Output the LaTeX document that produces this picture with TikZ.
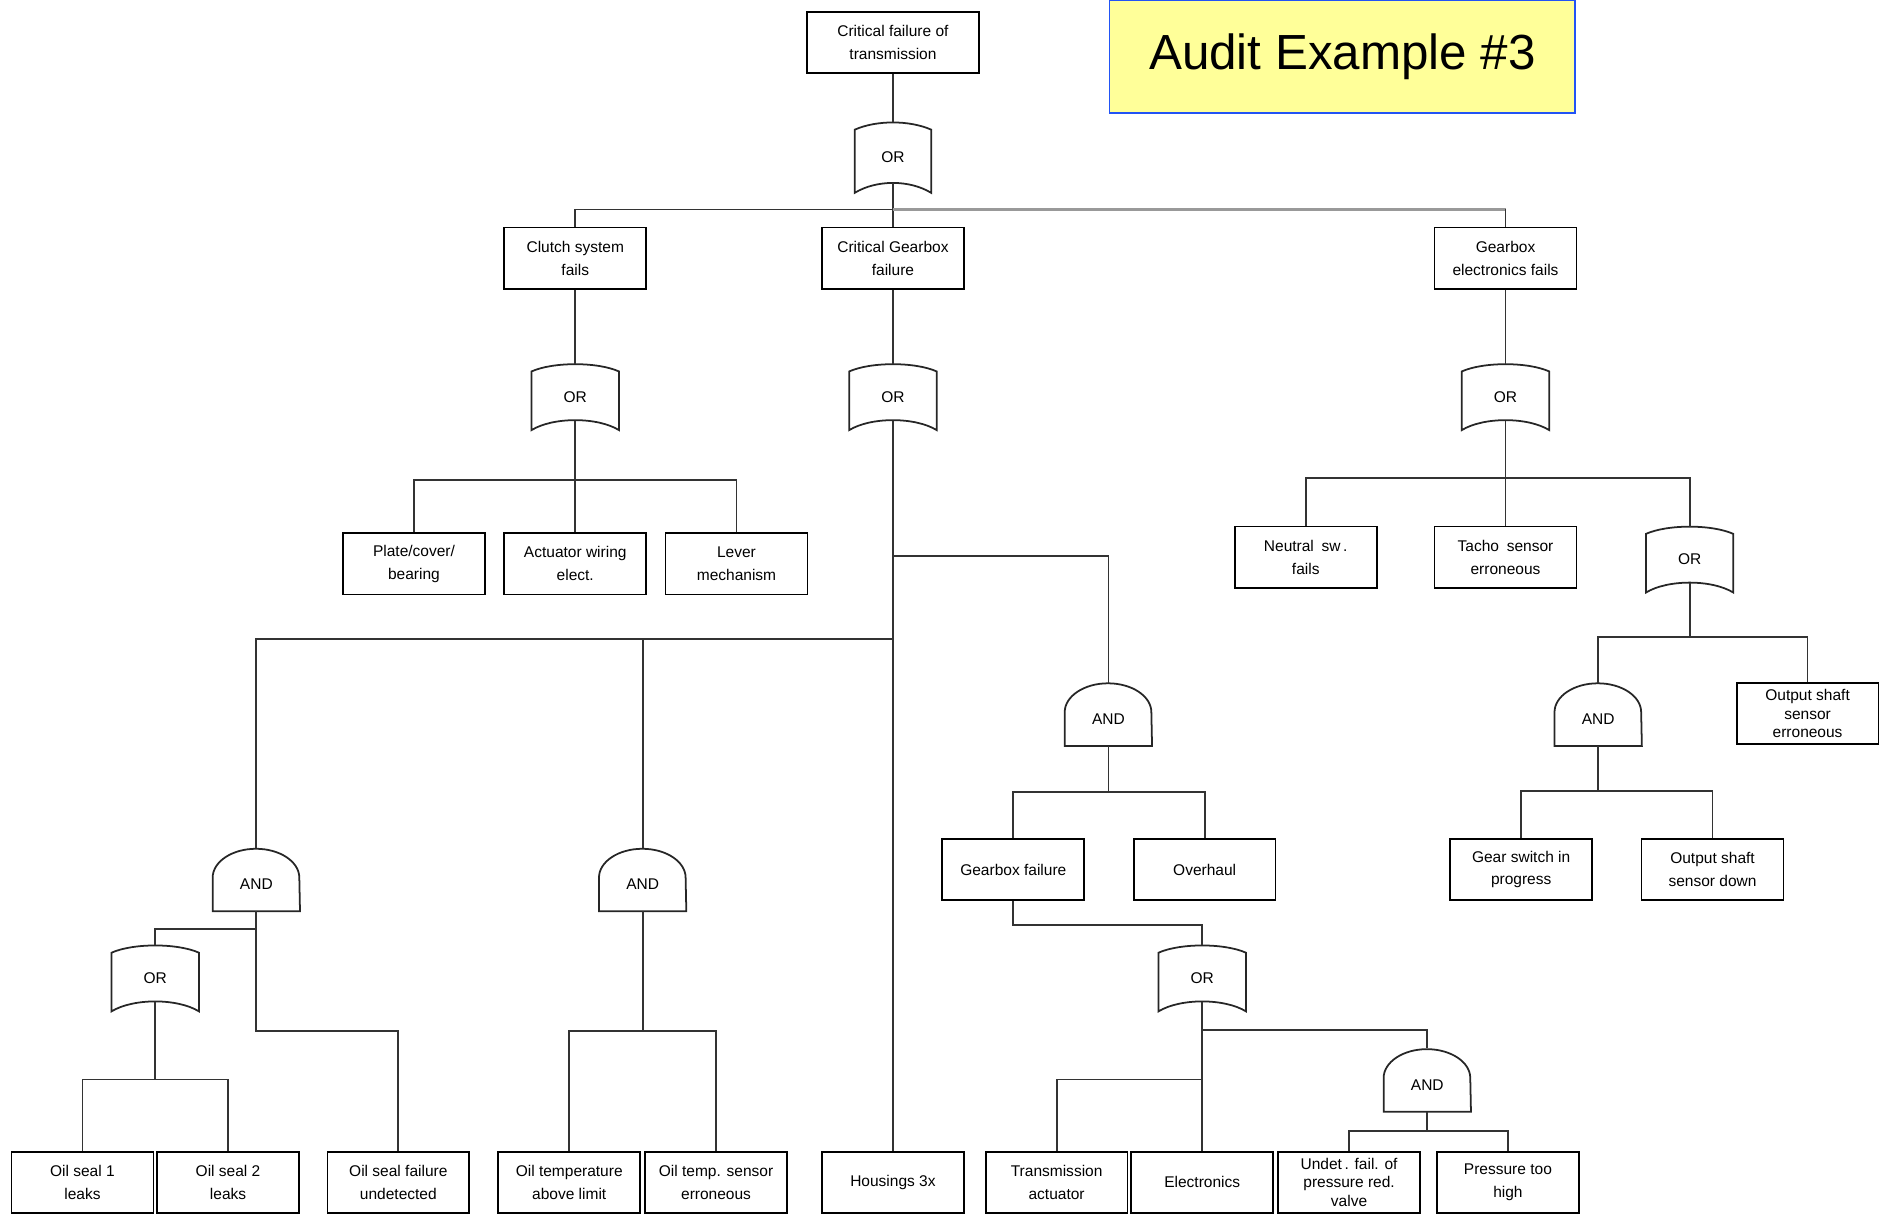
\documentclass[tikz,border=0pt]{standalone}
\usepackage{fontspec}
\setmainfont{Liberation Sans}
\usepackage{xcolor}
\usepackage{tikz}
\definecolor{auditblue}{HTML}{2253F5}
\definecolor{audityellow}{HTML}{FFFF99}

\tikzset{
  event/.style={draw, line width=1pt, minimum width=2.83cm, minimum height=1.22cm,
    inner sep=1pt, align=center, font=\fontsize{8.8}{13}\selectfont},
  tight/.style={font=\fontsize{8.8}{10.5}\selectfont},
  gate/.style={inner sep=0pt, minimum width=1.728cm, font=\fontsize{8.8}{10}\selectfont},
  orgate/.style={gate, minimum height=1.3cm},
  andgate/.style={gate, minimum height=1.248cm, text height=11.5pt, text depth=0pt},
  link/.style={draw=black!80, line width=1pt},
  outline/.style={draw=black!85, line width=1pt}
}

\begin{document}
\begin{tikzpicture}[x=0.024cm, y=-0.024cm]
  \useasboundingbox (0,0) rectangle (1568,1010);

  \node[draw=auditblue, fill=audityellow, line width=1pt, minimum width=9.29cm,
        minimum height=2.26cm, font=\fontsize{28}{30}\selectfont] (title) at (1115.5,47) {Audit Example \#3};

  % top event and first level
  \node[event, minimum width=3.43cm] (top) at (742,35.5) {Critical failure of\\transmission};
  \node[orgate, minimum width=1.51cm, minimum height=1.39cm] (or0) at (742,131) {OR};
  \node[event] (clutch) at (478,214.5) {Clutch system\\fails};
  \node[event] (gbx) at (742,214.5) {Critical Gearbox\\failure};
  \node[event] (elec) at (1251,214.5) {Gearbox\\electronics fails};

  % clutch branch
  \node[orgate] (or1) at (478,330) {OR};
  \node[event] (plate) at (344,468.5) {Plate/cover/\\bearing};
  \node[event] (actw) at (478,468.5) {Actuator wiring\\elect.};
  \node[event] (lever) at (612,468.5) {Lever\\mechanism};

  % electronics branch
  \node[orgate] (or3) at (1251,330) {OR};
  \node[event] (neutral) at (1085,463) {Neutral\enspace sw\,.\\fails};
  \node[event] (tacho) at (1251,463) {Tacho\enspace sensor\\erroneous};
  \node[orgate] (or4) at (1404,465) {OR};
  \node[andgate] (and1) at (1328,593.5) {AND};
  \node[event, tight] (oss) at (1502,593) {Output shaft\\sensor\\erroneous};
  \node[event] (gsw) at (1264,722.5) {Gear switch in\\progress};
  \node[event] (osd) at (1423,722.5) {Output shaft\\sensor down};

  % gearbox branch
  \node[orgate] (or2) at (742,330) {OR};
  \node[andgate] (and2) at (921,593.5) {AND};
  \node[event] (gbf) at (842,722.5) {Gearbox failure};
  \node[event] (ovh) at (1001,722.5) {Overhaul};
  \node[orgate] (or6) at (999,813) {OR};
  \node[andgate] (and5) at (1186,897.5) {AND};
  \node[andgate] (and3) at (213,731) {AND};
  \node[andgate] (and4) at (534,731) {AND};
  \node[orgate] (or5) at (129,813) {OR};

  % basic events
  \node[event] (seal1) at (68.5,982.5) {Oil seal 1\\leaks};
  \node[event] (seal2) at (189.5,982.5) {Oil seal 2\\leaks};
  \node[event] (sealund) at (331,982.5) {Oil seal failure\\undetected};
  \node[event] (oiltemp) at (473,982.5) {Oil temperature\\above limit};
  \node[event] (oilsens) at (595,982.5) {Oil temp. sensor\\erroneous};
  \node[event] (housing) at (742,982.5) {Housings 3x};
  \node[event] (tact) at (878,982.5) {Transmission\\actuator};
  \node[event] (electr) at (999,982.5) {Electronics};
  \node[event, tight] (undet) at (1121,982.5) {Undet\,. fail. of\\pressure red.\\valve};
  \node[event] (press) at (1253,982.5) {Pressure too\\high};

  % gate outlines
  \foreach \g in {or0,or1,or2,or3,or4,or5,or6}
    \draw[outline] ([yshift=-0.144cm]\g.north west) .. controls +(18,-8) and +(-18,-8) .. ([yshift=-0.144cm]\g.north east)
      -- (\g.south east) .. controls +(-18,-11) and +(18,-11) .. (\g.south west) -- cycle;
  \foreach \g in {and1,and2,and3,and4,and5}
    \draw[outline] (\g.south west) -- ++(0,-28) arc[start angle=180, end angle=360, x radius=36, y radius=24]
      -- (\g.south east) -- cycle;

  % junctions
  \coordinate (j0) at (742,174);
  \coordinate (j1) at (478,399);
  \coordinate (j3) at (1251,397);
  \coordinate (j4) at (1404,529);
  \coordinate (j5) at (1328,657);
  \coordinate (j6) at (742,462);
  \coordinate (j7) at (742,531);
  \coordinate (j8) at (213,857);
  \coordinate (j9) at (213,772);
  \coordinate (j10) at (129,897);
  \coordinate (j11) at (534,857);
  \coordinate (j12) at (921,658);
  \coordinate (j14) at (999,856);
  \coordinate (j15) at (999,897);
  \coordinate (j16) at (1186,940);

  % connectors
  \draw[link] (top.south) -- (or0.north);
  \draw[link] ([yshift=0.19cm]or0.south) -- (gbx.north);
  \draw[link] (clutch.north) |- (j0);
  \draw[link, draw=black!40, line width=1.4pt] (j0) -- (elec.north |- j0);
  \draw[link] (elec.north |- j0) -- (elec.north);

  \draw[link] (clutch.south) -- (or1.north);
  \draw[link] (gbx.south) -- (or2.north);
  \draw[link] (elec.south) -- (or3.north);

  \draw[link] ([yshift=0.19cm]or1.south) -- (actw.north);
  \draw[link] (plate.north) |- (j1) -| (lever.north);

  \draw[link] ([yshift=0.19cm]or3.south) -- (tacho.north);
  \draw[link] (neutral.north) |- (j3) -| (or4.north);
  \draw[link] ([yshift=0.19cm]or4.south) -- (j4);
  \draw[link] (and1.north) |- (j4) -| (oss.north);
  \draw[link] (and1.south) -- (j5);
  \draw[link] (gsw.north) |- (j5) -| (osd.north);

  \draw[link] ([yshift=0.19cm]or2.south) -- (housing.north);
  \draw[link] (j6) -| (and2.north);
  \draw[link] (j7) -| (and3.north);
  \draw[link] (and4.north) -- (and4.north |- j7);
  \draw[link] (and2.south) -- (j12);
  \draw[link] (gbf.north) |- (j12) -| (ovh.north);
  \draw[link] (gbf.south) -- ++(0,20) -| (or6.north);
  \draw[link] ([yshift=0.19cm]or6.south) -- (electr.north);
  \draw[link] (j14) -| (and5.north);
  \draw[link] (tact.north) |- (j15);
  \draw[link] (and5.south) -- (j16);
  \draw[link] (undet.north) |- (j16) -| (press.north);

  \draw[link] (and3.south) -- (j8) -| (sealund.north);
  \draw[link] (or5.north) |- (j9);
  \draw[link] ([yshift=0.19cm]or5.south) -- (j10);
  \draw[link] (seal1.north) |- (j10) -| (seal2.north);
  \draw[link] (and4.south) -- (j11);
  \draw[link] (oiltemp.north) |- (j11) -| (oilsens.north);
\end{tikzpicture}
\end{document}
